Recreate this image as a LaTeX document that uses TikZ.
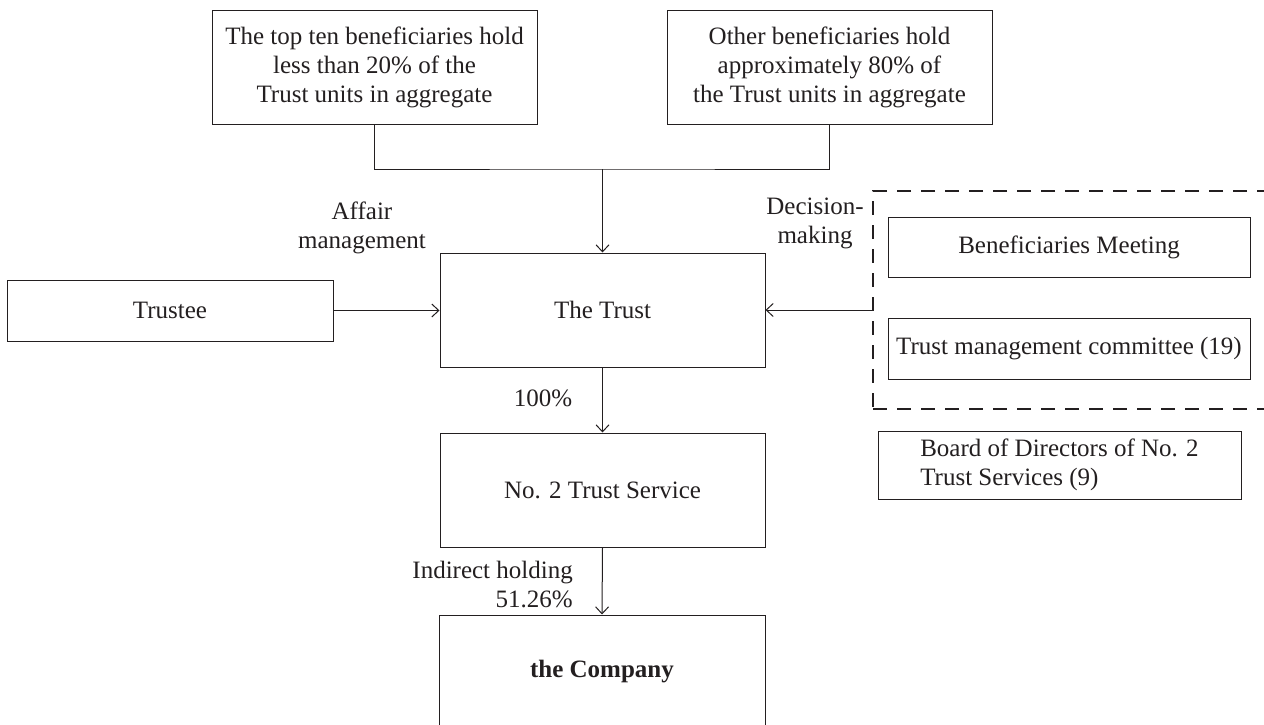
\documentclass[tikz,border=0pt]{standalone}
\usepackage{fontspec}
\setmainfont{Liberation Serif}
\usetikzlibrary{arrows.meta}
\definecolor{ink}{HTML}{231F20}
\begin{document}
\begin{tikzpicture}[x=1pt,y=-1pt,
  every node/.style={text=ink, font=\fontsize{25}{29}\selectfont},
  box/.style={draw=ink, line width=1pt, inner sep=0pt, align=center},
  dashbox/.style={draw=ink, line width=2.2pt, dash pattern=on 14pt off 10pt, inner sep=0pt},
  conn/.style={draw=ink, line width=1pt},
  arr/.style={conn, -{Straight Barb[length=7pt,width=13pt,line width=1pt]}},
  lbl/.style={inner sep=0pt, align=center}]
\useasboundingbox (0,0) rectangle (1264,725);
\node[box, minimum width=325, minimum height=113] (b1) at (374.5,67.5)
  {The top ten beneficiaries hold\\less than 20\% of the\\Trust units in aggregate};
\node[box, minimum width=325, minimum height=113] (b2) at (829.5,67.5)
  {Other beneficiaries hold\\approximately 80\% of\\the Trust units in aggregate};
\node[box, minimum width=325, minimum height=114] (trust) at (602.5,310) {The Trust};
\node[box, minimum width=325, minimum height=114] (no2) at (602.5,490) {No. 2 Trust Service};
\node[box, minimum width=326, minimum height=114] (comp) at (602,672) {\bfseries the Company};
\node[box, minimum width=326, minimum height=61] (trustee) at (170,310.5) {Trustee};
\node[dashbox, minimum width=402, minimum height=218] (grp) at (1074,300) {};
\node[box, minimum width=362, minimum height=60] (bm) at (1069,247) {Beneficiaries Meeting};
\node[box, minimum width=362, minimum height=61] (tmc) at (1069,348.5) {Trust management committee (19)};
\node[box, minimum width=363, minimum height=68, align=left] (board) at (1059.5,465)
  {Board of Directors of No. 2\\Trust Services (9)};
\coordinate (j) at (602.5,169);
\draw[conn] (b1.south) |- (j) -| (b2.south);
\draw[arr] (j) -- (trust.north);
\draw[arr] (trustee.east) -- (trustee.east -| trust.west);
\draw[arr] (grp.west |- trust.east) -- (trust.east);
\draw[arr] (trust.south) -- (no2.north);
\draw[arr] (no2.south) -- (comp.north);
\node[lbl] (laf) at (362,227.5) {Affair\\management};
\node[lbl] (ldm) at (815,223) {Decision-\\making};
\node[lbl] (l100) at (543,398) {100\%};
\node[lbl, align=right, anchor=east] (lind) at (573,584) {Indirect holding\\51.26\%};
\end{tikzpicture}
\end{document}
